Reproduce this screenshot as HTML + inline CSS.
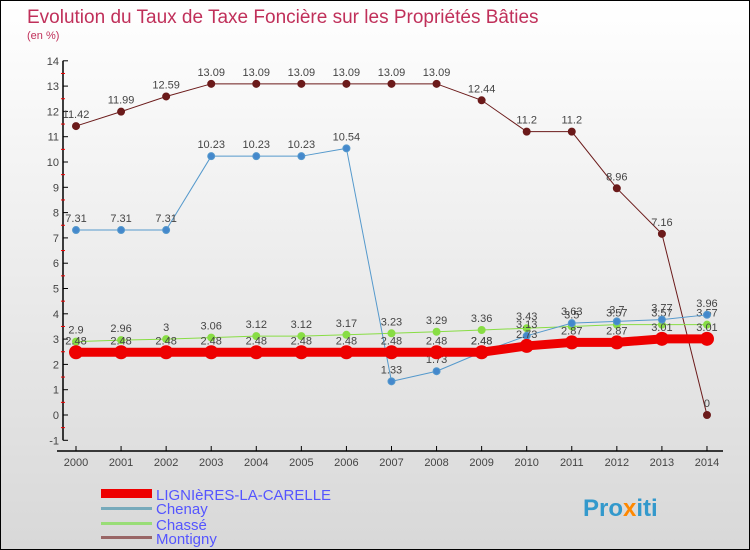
<!DOCTYPE html>
<html><head><meta charset="utf-8"><style>
body{margin:0;}
#c{width:748px;height:548px;border:1px solid #000;background:linear-gradient(#fff,#d8d8d8);position:relative;overflow:hidden;font-family:"Liberation Sans",sans-serif;}
</style></head><body>
<div id="c">
<svg id="s" width="748" height="548" xmlns="http://www.w3.org/2000/svg">
<text x="26" y="22" font-size="19" fill="#c0305a">Evolution du Taux de Taxe Foncière sur les Propriétés Bâties</text>
<text x="26" y="38" font-size="11" fill="#c0305a">(en %)</text>
<g id="axes"></g><g id="series"></g>
<g>
<rect x="100" y="488" width="51" height="9" fill="#e00"/>
<text x="155" y="499" font-size="15" fill="#55f">LIGNIèRES-LA-CARELLE</text>
<rect x="100" y="506" width="51" height="3" fill="#7ab"/>
<text x="155" y="513" font-size="15" fill="#55f">Chenay</text>
<rect x="100" y="521" width="51" height="3" fill="#9d7"/>
<text x="155" y="529" font-size="15" fill="#55f">Chassé</text>
<rect x="100" y="535" width="51" height="3" fill="#966"/>
<text x="155" y="543" font-size="15" fill="#55f">Montigny</text>
</g>
<text x="582" y="515" font-size="24" font-weight="bold" fill="#39c">Pro<tspan fill="#f80">x</tspan>iti</text>
</svg></div>
<script>
const years=[2000,2001,2002,2003,2004,2005,2006,2007,2008,2009,2010,2011,2012,2013,2014];
const yTicks=[-1,0,1,2,3,4,5,6,7,8,9,10,11,12,13,14];
const lignieres=[2.48,2.48,2.48,2.48,2.48,2.48,2.48,2.48,2.48,2.48,2.73,2.87,2.87,3.01,3.01];
const chenay=[7.31,7.31,7.31,10.23,10.23,10.23,10.54,1.33,1.73,2.48,3.13,3.63,3.7,3.77,3.96];
const chasse=[2.9,2.96,3,3.06,3.12,3.12,3.17,3.23,3.29,3.36,3.43,3.5,3.57,3.57,3.57];
const montigny=[11.42,11.99,12.59,13.09,13.09,13.09,13.09,13.09,13.09,12.44,11.2,11.2,8.96,7.16,0];
const NS='http://www.w3.org/2000/svg';
const xS=i=>75+i*45.07, yS=v=>414-v*25.3;
function mk(t,a,p){const e=document.createElementNS(NS,t);for(const k in a)e.setAttribute(k,a[k]);p.appendChild(e);return e;}
const ax=document.getElementById('axes');
let l=mk('line',{x1:62,y1:yS(14),x2:62,y2:yS(-1),stroke:'#000','stroke-width':1.5},ax);


l=mk('line',{x1:56,y1:450,x2:722,y2:450,stroke:'#000','stroke-width':1.5},ax);


yTicks.forEach(v=>{
 mk('line',{x1:62,y1:yS(v),x2:67,y2:yS(v),stroke:'#000'},ax);
 if(v<14) mk('line',{x1:60,y1:yS(v+0.5),x2:64,y2:yS(v+0.5),stroke:'#e00'},ax);
 const t=mk('text',{x:58,y:yS(v)+4,'font-size':11,fill:'#444','text-anchor':'end'},ax);t.textContent=v;
 
 
});
years.forEach((y,i)=>{
 mk('line',{x1:xS(i),y1:450,x2:xS(i),y2:445,stroke:'#000'},ax);
 const t=mk('text',{x:xS(i),y:465,'font-size':11,fill:'#444','text-anchor':'middle'},ax);t.textContent=y;
 
 
});
const sg=document.getElementById('series');
function draw(name,vals,color,w,r,dot){
 const g=mk('g',{},sg);
 
 
 const pl=mk('polyline',{points:vals.map((v,i)=>xS(i)+','+yS(v)).join(' '),fill:'none',stroke:color,'stroke-width':w},g);
 
 
 vals.forEach((v,i)=>{
  const c=mk('circle',{cx:xS(i),cy:yS(v),r:r,fill:dot,stroke:color,'stroke-width':1},g);
  
  
  const t=mk('text',{x:xS(i),y:yS(v)-8,'font-size':11,fill:'#444','text-anchor':'middle'},g);t.textContent=v;
  
  
 });
}
draw('montigny',montigny,'#6b1a1a',1,3.5,'#6b1a1a');
draw('chasse',chasse,'#8d4',1,3.5,'#8d4');
draw('chenay',chenay,'#59c',1,3.5,'#48c');
draw('lignieres',lignieres,'#e00',9,6.5,'#e00');
</script>
</body></html>
